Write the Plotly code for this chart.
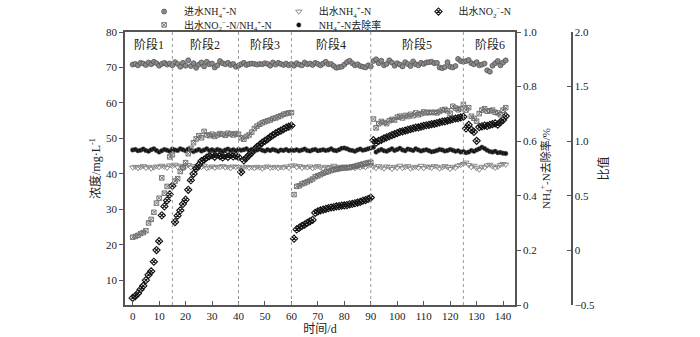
import plotly.graph_objects as go

# ---------------- data ----------------
days = list(range(0, 142))

influent_nh4 = [
    70.8, 71.0, 70.6, 71.3, 71.1, 70.7, 71.4, 70.9, 71.6, 71.2, 70.5, 71.0, 71.3, 70.8, 71.1, 70.6,
    71.5, 71.0, 70.2, 71.3, 70.5, 72.0, 70.4, 71.2, 69.9, 70.8, 71.4, 70.3, 71.6, 70.9, 71.1, 70.0,
    70.6, 71.8, 71.2, 70.9, 71.3, 70.7, 71.0, 70.2, 70.5,
    70.9, 71.3, 70.7, 71.0, 71.1, 71.0, 70.8, 71.0, 70.9, 71.2, 71.0, 70.5, 71.4, 70.8, 71.3, 71.0,
    70.7, 71.1, 70.6, 71.0,
    70.5, 71.2, 70.8, 70.6, 71.4, 70.9, 71.1, 70.7, 71.3, 71.0, 70.6, 71.1, 71.6, 70.9, 71.0, 70.4,
    69.9, 70.1, 70.2, 70.8, 71.5, 71.9, 71.2, 70.6, 70.9, 70.4, 70.2, 70.0, 70.6, 70.3,
    71.8, 72.3, 71.2, 71.9, 70.6, 71.0, 72.0, 71.4, 70.5, 71.2, 70.8, 70.3, 71.5, 71.0, 70.4, 71.7,
    70.9, 70.6, 71.3, 71.0, 71.4, 71.5, 71.6, 71.2, 71.3, 70.0, 69.8, 70.1, 71.5, 70.2, 70.0, 70.4,
    72.4, 71.8, 71.6,
    71.8, 72.1, 71.2, 70.9, 71.5, 70.6, 70.8, 71.1, 69.2, 68.8, 70.5, 71.2, 71.8, 70.6, 71.4, 72.0,
]

effluent_nh4 = [
    41.8, 42.0, 41.6, 41.9, 42.2, 41.7, 42.0, 41.5, 41.8, 42.1, 41.9, 42.3, 42.0, 41.7, 42.4, 42.2,
    42.6, 41.9, 42.3, 41.6, 42.0, 42.5, 41.8, 42.2, 41.7, 42.0, 41.9, 42.3, 41.6, 41.8, 42.1, 41.7,
    42.0, 41.9, 42.2, 41.8, 42.0, 41.6, 42.1, 41.9, 42.0,
    41.5, 41.8, 42.0, 41.7, 41.9, 41.6, 42.0, 41.8, 41.5, 41.9, 42.1, 41.7, 41.8, 42.0, 41.6, 41.9,
    41.8, 42.1, 41.7, 42.3,
    42.4, 41.9, 42.2, 41.7, 42.0, 41.8, 42.1, 41.6, 41.9, 42.2, 41.8, 41.5, 42.0, 41.7, 41.9, 42.3,
    41.6, 42.0, 41.8, 42.1, 41.7, 41.9, 42.2, 41.6, 42.0, 41.8, 42.1, 41.9, 42.3, 42.5,
    42.0, 41.6, 42.2, 41.8, 41.5, 42.1, 41.9, 41.4, 42.0, 41.7, 42.3, 41.6, 41.9, 42.2, 41.5, 41.8,
    42.0, 41.7, 42.3, 41.6, 42.1, 41.9, 41.7, 42.2, 42.0, 41.5, 41.8, 42.2, 41.9, 41.4, 42.0, 41.7,
    42.3, 42.5, 42.8,
    43.2, 42.5, 41.9, 42.3, 41.6, 41.2, 42.0, 41.8, 42.4, 42.6, 42.1, 41.7, 42.0, 42.5, 42.8, 42.6,
]

effluent_no2 = [
    5.0, 5.5, 6.3, 7.4, 8.4, 10.0, 11.5, 12.5, 15.2, 18.5, 21.0, 28.3, 30.8, 32.5, 34.2, 36.6,
    26.4, 28.2, 29.7, 31.5, 32.7, 35.5, 38.2, 40.0, 41.5, 42.5, 43.6, 44.0, 44.6, 45.0, 45.3, 44.8,
    45.5, 45.0, 44.6, 45.2, 44.8, 45.4, 44.9, 45.1, 44.7,
    40.5, 43.8, 44.5, 45.3, 46.0, 46.8, 47.6, 48.2, 48.8, 49.3, 49.8, 50.4, 50.9, 51.4, 51.8, 52.2,
    52.6, 53.0, 53.3, 53.6,
    21.7, 24.3, 24.8, 25.3, 25.7, 26.2, 26.6, 27.0, 29.0, 29.4, 29.7, 29.9, 30.1, 30.3, 30.5, 30.6,
    30.8, 30.9, 31.0, 31.1, 31.2, 31.4, 31.5, 31.7, 31.9, 32.1, 32.4, 32.6, 32.9, 33.3,
    49.5, 48.8, 49.3, 49.6, 50.0, 50.3, 50.6, 50.9, 51.2, 51.5, 51.8, 52.0, 52.2, 52.4, 52.6, 52.8,
    53.0, 53.1, 53.3, 53.5, 53.7, 53.8, 54.0, 54.1, 54.3, 54.5, 54.7, 54.8, 55.0, 55.2, 55.4, 55.6,
    55.7, 55.9, 56.1,
    52.8, 53.8, 52.4, 51.8, 49.3, 53.2, 53.4, 53.6, 53.5, 53.8, 54.0, 54.2, 53.9, 54.6, 55.2, 56.3,
]

ratio_no2_nh4 = [
    0.121, 0.128, 0.138, 0.154, 0.163, 0.180, 0.251, 0.284, 0.349, 0.433, 0.478, 0.664, 0.524, 0.586,
    0.856, 0.875,
    0.635, 0.657, 0.722, 0.758, 0.804, 0.885, 0.934, 0.986, 1.021, 1.051, 1.031, 1.090, 1.057, 1.051,
    1.064, 1.044, 1.057, 1.070, 1.064, 1.054, 1.073, 1.067, 1.057, 1.070, 1.064,
    1.031, 1.018, 1.044, 1.057, 1.083, 1.116, 1.138, 1.155, 1.168, 1.178, 1.187, 1.194, 1.207, 1.213,
    1.223, 1.233, 1.246, 1.252, 1.259, 1.262,
    0.511, 0.586, 0.592, 0.609, 0.618, 0.628, 0.641, 0.654, 0.674, 0.683, 0.693, 0.706, 0.716, 0.722,
    0.732, 0.739, 0.742, 0.748, 0.752, 0.755, 0.758, 0.758, 0.765, 0.771, 0.778, 0.784, 0.791, 0.797,
    0.804, 0.807,
    1.203, 1.122, 1.161, 1.181, 1.171, 1.161, 1.187, 1.200, 1.194, 1.220, 1.229, 1.213, 1.236, 1.226,
    1.246, 1.233, 1.259, 1.242, 1.252, 1.268, 1.259, 1.265, 1.262, 1.265, 1.259, 1.272, 1.285, 1.291,
    1.278, 1.255, 1.320, 1.304, 1.288, 1.298, 1.337,
    1.285, 1.307, 1.229, 1.210, 1.184, 1.252, 1.285, 1.298, 1.275, 1.278, 1.285, 1.265, 1.259, 1.242,
    1.285, 1.307,
]

removal_rate = [
    0.568, 0.570, 0.565, 0.567, 0.571, 0.566, 0.563, 0.569, 0.572, 0.566, 0.560, 0.565, 0.570, 0.567,
    0.563, 0.571,
    0.568, 0.566, 0.572, 0.569, 0.565, 0.571, 0.567, 0.562, 0.566, 0.570, 0.564, 0.568, 0.572, 0.566,
    0.569, 0.565, 0.570, 0.567, 0.563, 0.568, 0.571, 0.566, 0.569, 0.565, 0.570,
    0.567, 0.569, 0.572, 0.566, 0.570, 0.565, 0.568, 0.571, 0.567, 0.564, 0.569, 0.566, 0.570, 0.567,
    0.563, 0.568, 0.566, 0.570, 0.565, 0.568,
    0.566, 0.569, 0.565, 0.568, 0.571, 0.566, 0.564, 0.568, 0.570, 0.565, 0.567, 0.569, 0.566, 0.568,
    0.572, 0.567, 0.565, 0.569, 0.574, 0.575, 0.572, 0.568, 0.566, 0.563, 0.568, 0.571, 0.567, 0.569,
    0.572, 0.575,
    0.578, 0.560, 0.566, 0.570, 0.565, 0.563, 0.568, 0.572, 0.566, 0.570, 0.574, 0.568, 0.565, 0.571,
    0.569, 0.566, 0.572, 0.568, 0.564, 0.567, 0.569, 0.565, 0.561, 0.563, 0.566, 0.570, 0.568, 0.564,
    0.566, 0.570, 0.567, 0.563, 0.565, 0.560, 0.562,
    0.558, 0.560, 0.566, 0.563, 0.568, 0.572, 0.578, 0.573, 0.567, 0.562, 0.560, 0.563, 0.558, 0.559,
    0.556, 0.555,
]

stage_bounds = [15, 40, 60, 90, 125]
stage_names = ["阶段1", "阶段2", "阶段3", "阶段4", "阶段5", "阶段6"]
stage_centers = [6, 27.5, 50, 75, 107.5, 135]

x_ticks = list(range(0, 141, 10))
y_ticks = list(range(10, 81, 10))
y2_ticks = [0, 0.2, 0.4, 0.6, 0.8, 1.0]
y2_labels = ["0", "0.2", "0.4", "0.6", "0.8", "1.0"]
y3_ticks = [-0.5, 0, 0.5, 1.0, 1.5, 2.0]
y3_labels = ["\u22120.5", "0", "0.5", "1.0", "1.5", "2.0"]

# ---------------- figure ----------------
FONT = "Liberation Serif, Noto Sans CJK SC, serif"
AX = "#555555"

fig = go.Figure()

fig.add_trace(go.Scatter(
    x=days, y=influent_nh4, mode="markers", name="进水NH<sub>4</sub><sup>+</sup>-N",
    marker=dict(symbol="circle", size=5, color="#8a8a8a", line=dict(color="#4a4a4a", width=0.7)),
    legend="legend"))
fig.add_trace(go.Scatter(
    x=days, y=effluent_nh4, mode="markers", name="出水NH<sub>4</sub><sup>+</sup>-N",
    marker=dict(symbol="triangle-down-open", size=5.5, color="#808080", line=dict(width=0.9)),
    legend="legend2"))
fig.add_trace(go.Scatter(
    x=days, y=effluent_no2, mode="markers", name="出水NO<sub>2</sub><sup>\u2212</sup>-N",
    marker=dict(symbol="diamond-x-open", size=5.5, color="#111111", line=dict(width=1.1)),
    legend="legend3"))
fig.add_trace(go.Scatter(
    x=days, y=ratio_no2_nh4, mode="markers", yaxis="y3",
    name="出水NO<sub>2</sub><sup>\u2212</sup>-N/NH<sub>4</sub><sup>+</sup>-N",
    marker=dict(symbol="square-x-open", size=4.5, color="#6a6a6a", line=dict(width=0.9)),
    legend="legend4"))
fig.add_trace(go.Scatter(
    x=days, y=removal_rate, mode="markers", yaxis="y2",
    name="NH<sub>4</sub><sup>+</sup>-N去除率",
    marker=dict(symbol="circle", size=4.5, color="#111111", line=dict(color="#555555", width=0.5)),
    legend="legend5"))

shapes = []
for b in stage_bounds:
    shapes.append(dict(type="line", xref="x", yref="paper", x0=b, x1=b, y0=0, y1=1,
                       line=dict(color="#999999", width=1, dash="dot")))
fig.update_layout(shapes=shapes)

for name, cx in zip(stage_names, stage_centers):
    fig.add_annotation(x=cx, y=0.99, xref="x", yref="paper", yanchor="top", text=name,
                       showarrow=False, font=dict(size=12, color="#222222", family=FONT))


def leg(x, y):
    return dict(orientation="h", x=x, y=y, xanchor="left", yanchor="middle", itemwidth=30,
                font=dict(size=10, family=FONT), bgcolor="rgba(0,0,0,0)", tracegroupgap=0)


row1, row2 = 1.075, 1.026
col = [0.042, 0.338, 0.645]

fig.update_layout(
    width=700, height=337,
    margin=dict(l=125, r=120, t=32, b=32, autoexpand=False),
    paper_bgcolor="white", plot_bgcolor="white",
    font=dict(family=FONT, size=12, color="#222222"),
    xaxis=dict(domain=[0, 0.8571], range=[-2.9, 144.5], tickvals=x_ticks,
               ticks="inside", ticklen=4, tickcolor=AX, showline=True, linecolor=AX,
               linewidth=1.5, mirror=True, showgrid=False, zeroline=False,
               title=dict(text="时间/d", standoff=4, font=dict(size=12)),
               tickfont=dict(size=11)),
    yaxis=dict(range=[3, 80], tickvals=y_ticks, ticks="outside", ticklen=4, tickcolor=AX,
               showline=True, linecolor=AX, linewidth=1.5, showgrid=False, zeroline=False,
               title=dict(text="浓度/mg·L<sup>-1</sup>", standoff=3, font=dict(size=12)),
               tickfont=dict(size=11)),
    yaxis2=dict(overlaying="y", side="right", anchor="x", range=[0, 1],
                tickvals=y2_ticks, ticktext=y2_labels, ticks="outside", ticklen=4, tickcolor=AX,
                showline=True, linecolor=AX, linewidth=1.5, showgrid=False, zeroline=False,
                title=dict(text="NH<sub>4</sub><sup>+</sup>-N去除率/%", standoff=6,
                           font=dict(size=11)),
                tickfont=dict(size=11)),
    yaxis3=dict(overlaying="y", side="right", anchor="free", position=0.9818, range=[-0.5, 2.0],
                tickvals=y3_ticks, ticktext=y3_labels, ticks="inside", ticklen=4, tickcolor=AX,
                showline=True, linecolor=AX, linewidth=1.5, showgrid=False, zeroline=False,
                title=dict(text="比值", standoff=4, font=dict(size=12)),
                tickfont=dict(size=11)),
    legend=leg(col[0], row1),
    legend2=leg(col[1], row1),
    legend3=leg(col[2], row1),
    legend4=leg(col[0], row2),
    legend5=leg(col[1], row2),
    showlegend=True,
)

fig.write_html("out.html")
